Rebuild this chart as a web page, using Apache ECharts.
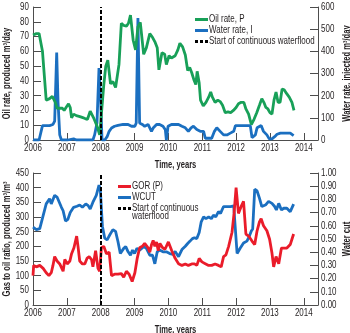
<!DOCTYPE html>
<html>
<head>
<meta charset="utf-8">
<script src="https://cdn.jsdelivr.net/npm/echarts@6/dist/echarts.min.js"></script>
<style>
  html, body { margin: 0; padding: 0; background: #fff; }
  #chart { width: 350px; height: 333px; }
</style>
</head>
<body>
<div id="chart"></div>
<script>
// Production history of the field: oil and injected water (top), GOR and water cut (bottom)
const waterfloodStart = 2008;

const oilYears = [2006.00,2006.10,2006.18,2006.28,2006.39,2006.49,2006.57,2006.62,2006.66,2006.71,2006.79,2006.87,2006.92,2006.99,2007.05,2007.10,2007.14,2007.20,2007.28,2007.36,2007.43,2007.48,2007.54,2007.61,2007.69,2007.79,2007.89,2007.97,2008.02,2008.09,2008.15,2008.21,2008.29,2008.36,2008.44,2008.54,2008.61,2008.68,2008.76,2008.82,2008.88,2008.96,2009.03,2009.10,2009.17,2009.27,2009.35,2009.45,2009.53,2009.61,2009.67,2009.72,2009.81,2009.89,2009.94,2010.02,2010.09,2010.20,2010.28,2010.34,2010.42,2010.50,2010.57,2010.63,2010.69,2010.75,2010.81,2010.85,2010.91,2010.95,2011.03,2011.11,2011.19,2011.25,2011.30,2011.38,2011.46,2011.53,2011.60,2011.68,2011.76,2011.84,2011.92,2012.00,2012.07,2012.15,2012.23,2012.29,2012.37,2012.45,2012.53,2012.61,2012.69,2012.76,2012.82,2012.88,2012.94,2013.00,2013.06,2013.12,2013.18,2013.24,2013.30,2013.36,2013.42,2013.49,2013.57,2013.65,2013.71];
const oilRate = [71,72,72,60,27,28,29.5,30.5,25.5,21.5,21.5,21.5,20,22.5,24.5,22,15,17.5,16.5,16,15.5,16.5,14.5,14,19.5,15,9.5,3.5,2.5,37,50,54,38,39.5,35.5,51,79,77.5,77,79,84.5,67.5,61,76.5,79.5,58,62.5,72,69.5,66,62.5,47.5,59,58,51,57,55.5,57,61,65.5,63,57.5,47,49,45.5,41,37.5,46.5,38.5,27,23,25.5,29,32.5,29,25.5,27,26,23.5,18.5,19,18.5,20,22,24.5,25.5,25.5,21,17.5,10.5,14,18.5,23.5,28,25.5,22,21,18.5,17.5,27,32.5,25.5,25.5,34.5,34,31.5,29,25.5,20];

const waterYears = [2006.00,2006.18,2006.22,2006.28,2006.39,2006.49,2006.59,2006.64,2006.70,2006.74,2006.79,2006.84,2006.94,2007.03,2007.13,2007.20,2007.28,2007.77,2007.82,2007.89,2007.95,2008.00,2008.04,2008.12,2008.19,2008.25,2008.32,2008.41,2008.51,2008.66,2008.81,2008.91,2008.96,2009.01,2009.05,2009.10,2009.15,2009.23,2009.30,2009.40,2009.50,2009.55,2009.65,2009.74,2009.84,2009.91,2009.94,2009.99,2010.09,2010.20,2010.30,2010.40,2010.50,2010.59,2010.67,2010.74,2010.84,2010.94,2011.04,2011.09,2011.19,2011.28,2011.36,2011.43,2011.53,2011.63,2011.73,2011.83,2011.93,2011.98,2012.07,2012.17,2012.32,2012.42,2012.47,2012.57,2012.62,2012.67,2012.74,2012.81,2012.86,2012.91,2012.98,2013.06,2013.14,2013.21,2013.31,2013.45,2013.60,2013.65,2013.70];
const waterRate = [0,0,0,65,65,65,70,85,395,170,23,0,0,0,3,5,0,0,23,77,325,170,0,0,15,39,54,62,66,70,70,62,54,62,77,550,77,70,62,70,39,54,70,70,62,46,0,62,70,70,70,62,55,39,55,62,47,39,39,8,8,8,39,55,39,23,23,31,39,65,65,65,65,65,11,23,55,62,65,39,47,23,5,5,15,26,31,31,31,23,20];

const gorYears = [2006.00,2006.02,2006.10,2006.20,2006.30,2006.39,2006.47,2006.54,2006.59,2006.64,2006.71,2006.79,2006.89,2006.94,2007.01,2007.09,2007.14,2007.21,2007.29,2007.33,2007.38,2007.46,2007.53,2007.60,2007.66,2007.73,2007.77,2007.85,2007.92,2007.97,2008.02,2008.09,2008.17,2008.25,2008.32,2008.41,2008.51,2008.61,2008.68,2008.76,2008.84,2008.93,2009.01,2009.08,2009.15,2009.23,2009.30,2009.35,2009.40,2009.45,2009.50,2009.55,2009.60,2009.65,2009.70,2009.75,2009.83,2009.90,2010.00,2010.10,2010.20,2010.30,2010.40,2010.50,2010.59,2010.69,2010.77,2010.84,2010.91,2010.99,2011.09,2011.19,2011.28,2011.38,2011.48,2011.56,2011.63,2011.70,2011.78,2011.88,2011.94,2012.00,2012.07,2012.15,2012.22,2012.29,2012.37,2012.47,2012.55,2012.62,2012.69,2012.74,2012.81,2012.91,2012.99,2013.06,2013.11,2013.18,2013.26,2013.34,2013.41,2013.50,2013.60,2013.65,2013.70];
const gorValues = [100,135,130,135,125,110,100,110,135,165,150,140,115,155,140,150,175,195,235,200,150,140,140,160,165,155,130,185,125,115,195,200,175,180,100,105,105,107,95,115,105,80,110,160,195,200,210,205,195,180,205,220,200,215,185,210,195,190,215,185,159,141,135,140,135,140,140,135,159,147,141,135,135,140,135,130,165,171,200,248,312,400,312,336,353,242,235,218,206,253,283,294,270,253,224,177,130,165,141,194,194,194,206,224,242];

const wcutYears = [2006.00,2006.10,2006.20,2006.39,2006.49,2006.54,2006.64,2006.71,2006.84,2006.89,2006.96,2007.03,2007.10,2007.20,2007.30,2007.38,2007.46,2007.56,2007.63,2007.69,2007.77,2007.87,2007.95,2007.99,2008.05,2008.12,2008.19,2008.27,2008.36,2008.44,2008.51,2008.58,2008.68,2008.74,2008.81,2008.88,2008.94,2009.00,2009.07,2009.15,2009.27,2009.35,2009.45,2009.53,2009.60,2009.67,2009.74,2009.84,2009.94,2010.04,2010.14,2010.20,2010.30,2010.40,2010.50,2010.57,2010.64,2010.71,2010.77,2010.84,2010.91,2010.97,2011.04,2011.11,2011.19,2011.27,2011.33,2011.40,2011.48,2011.54,2011.63,2011.73,2011.83,2011.93,2011.98,2012.03,2012.12,2012.22,2012.32,2012.39,2012.45,2012.49,2012.55,2012.62,2012.69,2012.76,2012.81,2012.88,2012.96,2013.06,2013.14,2013.19,2013.26,2013.34,2013.41,2013.50,2013.60,2013.70];
const wcutValues = [0.59,0.571,0.579,0.766,0.805,0.766,0.831,0.818,0.74,0.714,0.636,0.649,0.701,0.74,0.748,0.758,0.74,0.766,0.753,0.727,0.779,0.831,0.909,0.87,0.597,0.506,0.494,0.532,0.571,0.558,0.481,0.39,0.429,0.442,0.403,0.377,0.416,0.39,0.429,0.416,0.442,0.429,0.377,0.377,0.312,0.403,0.416,0.403,0.403,0.39,0.384,0.406,0.366,0.42,0.445,0.466,0.484,0.503,0.51,0.503,0.55,0.63,0.667,0.654,0.667,0.654,0.68,0.667,0.707,0.694,0.746,0.746,0.746,0.75,0.76,0.39,0.43,0.47,0.484,0.52,0.56,0.576,0.877,0.864,0.81,0.746,0.733,0.76,0.785,0.77,0.746,0.72,0.77,0.72,0.733,0.733,0.707,0.764];

const pairs = (xs, ys) => xs.map((x, i) => [x, ys[i]]);

// No condensed face is installed, so canvas text is squeezed horizontally
// around its anchor point to give a narrow, condensed look.
(function condenseCanvasText(k) {
  const proto = CanvasRenderingContext2D.prototype;
  ['fillText', 'strokeText'].forEach(fn => {
    const draw = proto[fn];
    proto[fn] = function (text, x, y) {
      this.save();
      this.translate(x, y);
      this.scale(k, 1);
      draw.call(this, text, 0, 0);
      this.restore();
    };
  });
})(0.76);

const FONT = "'Liberation Sans', Arial, sans-serif";
const INK = '#231f20';
const AXIS = '#4d4d4d';
const GREEN = '#18a058';
const BLUE = '#1b6fc0';
const RED = '#ea1c2a';
const WF = 'Start of continuous waterflood';
const dashIcon = 'path://M0,0h3v3h-3z M5,0h3v3h-3z M10,0h3v3h-3z';
const NAME_STYLE = { fontSize: 10, color: INK, fontWeight: 'bold' };
const TICK_FONT = 10.5;
const LEGEND_FONT = 10.5;
const LINE_W = 2.8;

function xAxisCfg(gridIndex) {
  return {
    type: 'value', gridIndex, min: 2006, max: 2014.42, interval: 1,
    name: 'Time, years', nameLocation: 'middle', nameGap: 20, nameMoveOverlap: false,
    nameTextStyle: NAME_STYLE,
    axisLine: { lineStyle: { color: AXIS, width: 1 } },
    axisTick: { inside: true, length: 7, lineStyle: { color: AXIS } },
    axisLabel: { fontSize: TICK_FONT, color: INK, margin: 3, hideOverlap: false,
      formatter: v => (Number.isInteger(v) ? String(v) : '') },
    splitLine: { show: false }
  };
}
function yAxisCfg(gridIndex, side, min, max, interval, name, nameGap, fmt) {
  return {
    type: 'value', gridIndex, position: side, min, max, interval,
    name, nameLocation: 'middle', nameGap, nameRotate: 90, nameMoveOverlap: false,
    nameTextStyle: NAME_STYLE,
    axisLine: { show: true, lineStyle: { color: AXIS, width: 1 } },
    axisTick: { show: true, inside: true, length: 8, lineStyle: { color: AXIS } },
    axisLabel: { fontSize: TICK_FONT, color: INK, margin: side === 'left' ? 4 : 3, formatter: fmt },
    splitLine: { show: false }
  };
}
function lineSeries(name, xi, yi, data, color) {
  return {
    name, type: 'line', xAxisIndex: xi, yAxisIndex: yi, data,
    symbol: 'none', lineStyle: { color, width: LINE_W }, itemStyle: { color },
    animation: false
  };
}
function floodSeries(xi, yi) {
  return {
    name: WF, type: 'line', xAxisIndex: xi, yAxisIndex: yi,
    data: [[waterfloodStart, 0]], symbol: 'none',
    itemStyle: { color: '#000' }, lineStyle: { color: '#000', width: 2, type: [4, 2] },
    markLine: {
      silent: true, symbol: 'none', label: { show: false },
      lineStyle: { color: '#000', width: 2, type: [4, 2] },
      data: [{ xAxis: waterfloodStart }]
    },
    animation: false
  };
}

const chart = echarts.init(document.getElementById('chart'), null, { renderer: 'canvas' });
chart.setOption({
  animation: false,
  textStyle: { fontFamily: FONT },
  grid: [
    { left: 33, right: 32, top: 7, height: 133, outerBoundsMode: 'none', containLabel: false },
    { left: 33, right: 32, top: 173, height: 132, outerBoundsMode: 'none', containLabel: false }
  ],
  xAxis: [xAxisCfg(0), xAxisCfg(1)],
  yAxis: [
    yAxisCfg(0, 'left', 0, 90, 10, 'Oil rate, produced m³/day', 21),
    yAxisCfg(0, 'right', 0, 600, 100, 'Water rate, injected m³/day', 24),
    yAxisCfg(1, 'left', 0, 450, 50, 'Gas to oil ratio, produced m³/m³', 21),
    yAxisCfg(1, 'right', 0, 1, 0.1, 'Water cut', 24, v => v.toFixed(2))
  ],
  legend: [
    {
      left: 195, top: 14, padding: 0, orient: 'vertical', itemWidth: 13, itemHeight: 3, itemGap: 0,
      textStyle: { fontSize: LEGEND_FONT, color: INK, lineHeight: 10.5, padding: [0, 0, 0, -4] },
      data: [
        { name: 'Oil rate, P', icon: 'rect' },
        { name: 'Water rate, I', icon: 'rect' },
        { name: WF, icon: dashIcon }
      ],
      selectedMode: false
    },
    {
      left: 118, top: 181, padding: 0, orient: 'vertical', itemWidth: 13, itemHeight: 3, itemGap: 0,
      textStyle: { fontSize: LEGEND_FONT, color: INK, lineHeight: 10, padding: [0, 0, 0, -4] },
      formatter: n => (n === WF ? 'Start of continuous' : n),
      data: [
        { name: 'GOR (P)', icon: 'rect' },
        { name: 'WCUT', icon: 'rect' },
        { name: WF, icon: dashIcon }
      ],
      selectedMode: false
    }
  ],
  // second line of the wrapped legend entry in the lower panel
  graphic: [{
    type: 'text', left: 132, top: 211,
    style: { text: 'waterflood', fontSize: LEGEND_FONT, fontFamily: FONT, fill: INK }
  }],
  series: [
    lineSeries('Water rate, I', 0, 1, pairs(waterYears, waterRate), BLUE),
    lineSeries('Oil rate, P', 0, 0, pairs(oilYears, oilRate), GREEN),
    floodSeries(0, 0),
    lineSeries('WCUT', 1, 3, pairs(wcutYears, wcutValues), BLUE),
    lineSeries('GOR (P)', 1, 2, pairs(gorYears, gorValues), RED),
    floodSeries(1, 2)
  ]
});
</script>
</body>
</html>
